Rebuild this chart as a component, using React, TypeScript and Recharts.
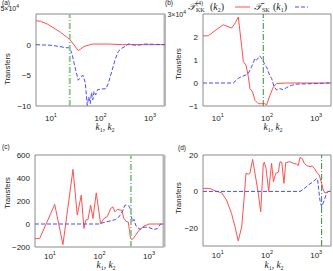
import React from "react";
import { ComposedChart, Line, XAxis, YAxis, ReferenceLine, ReferenceArea } from "recharts";

const K_RANGE = [5, 2000];
const K_TICKS = [10, 100, 1000];

// (a)  values in units of 10^4
const A_RED_K = [5, 6.2, 8.5, 11.5, 15.7, 21.4, 24.3, 29.2, 35.6, 40, 46.5, 68, 150, 280, 2000];
const A_RED_V = [3.9, 3.8, 3.35, 2.7, 2.0, 1.16, 0.8, -0.04, -0.97, -0.7, -0.3, 0.1, 0.1, 0, 0];
const A_BLUE_K = [5, 10, 15, 20, 24, 27, 31.5, 35.6, 40.5, 44.6, 49.6, 54, 58, 62, 66, 70, 74, 80, 88, 100, 112, 129, 144, 168, 196, 228, 267, 311, 363, 425, 537, 800, 2000];
const A_BLUE_V = [0, -0.1, -0.3, -0.5, -0.5, -1.7, -4.1, -5.8, -5.2, -5.0, -6.3, -9.9, -8.5, -9.6, -7.8, -9.0, -7.6, -8.2, -7.3, -7.3, -7.2, -7.2, -6.3, -4.4, -2.5, -1.1, -0.6, -0.3, 0.13, 0, -0.1, 0.1, 0];
const A_MARK = 24;
const A_TICKS = [-10, -5, 0, 5];

// (b)  values in units of 10^4
const B_RED_K = [5, 6.4, 8.8, 12.9, 19.1, 22.4, 26.1, 30.6, 33, 37.5, 41.7, 45, 51, 57, 66.5, 78, 90, 98, 106, 115, 135, 158, 250, 2000];
const B_RED_V = [2.05, 2.05, 2.28, 2.53, 2.39, 2.6, 2.87, 1.58, 0.93, 0.78, 0.27, -0.24, -0.39, -0.75, -0.9, -0.9, -0.9, -0.95, -0.75, -0.53, -0.17, -0.02, 0, 0];
const B_BLUE_K = [5, 15, 20.6, 26, 30, 36, 41.7, 48.7, 57, 61, 65, 71, 76, 84, 92, 98, 106, 115, 124, 140, 158, 182, 213, 250, 316, 400, 2000];
const B_BLUE_V = [0, 0, 0, 0.2, 0.27, 0.34, 0.42, 0.71, 1.07, 1.0, 1.05, 1.18, 1.1, 0.95, 0.75, 0.7, 0.5, 0.3, 0.2, -0.17, -0.31, -0.24, -0.3, -0.2, -0.1, -0.05, 0];
const B_MARK = 84;
const B_TICKS = [-1, 0, 1, 2, 3];

// (c)
const C_RED_K = [5, 6.2, 12.5, 18.3, 29.2, 35.6, 42.9, 48.6, 52.6, 58.5, 66.4, 73.8, 86, 105, 123, 144, 168, 187, 205, 228, 280, 311, 347, 380, 406, 425, 458, 536, 625, 788, 993, 2000];
const C_RED_V = [-127, -127, 170, -179, 475, 77, 251, -39, 33, 39, 164, 48, 271, 4, 48, 65, 135, 149, 106, 126, 120, 48, 21, 18, -69, -127, -135, -98, -54, -19, 0, 0];
const C_BLUE_K = [5, 80, 97.5, 133, 168, 212, 247, 288, 326, 363, 406, 437, 458, 495, 536, 578, 677, 788, 993, 1250, 1460, 1710, 2000];
const C_BLUE_V = [0, 0, 0, 18, 27, 39, 62, 106, 164, 164, 149, 77, 18, 40, -9, -30, -48, -27, -30, -48, -40, 0, 0];
const C_MARK = 430;
const C_TICKS = [-200, 0, 200, 400, 600];

// (d)
const D_RED_K = [5, 6.9, 8.8, 12, 15, 19, 22.4, 26, 30.6, 34, 37.4, 41.7, 45, 51, 57, 66.5, 74.5, 84, 88, 95.5, 108, 124, 135, 150, 170, 184, 200, 221, 240, 293, 342, 400, 432, 468, 521, 573, 640, 748, 833, 916, 1020, 1155, 1290, 1395, 1510, 1760, 2000];
const D_RED_V = [1.65, 1.65, 0.3, -0.8, -4.8, -12.1, -19.5, -27.2, -19.5, -4.8, 9.9, 9.5, 10, 17.6, 9.9, -1.1, -11.2, 15, 16, 12.7, 0, 15.4, 5.3, 9.9, 10.5, 16.3, 16, 4.4, 15.8, 16.3, 15.4, 15, 14.2, 18.7, 18, 15.4, 14.2, 13.6, 14, 12.7, 10.5, 9, 4.4, 0.7, -0.9, 0, 0];
const D_BLUE_K = [5, 470, 546, 692, 870, 1020, 1070, 1190, 1290, 1460, 1620, 1760, 2000];
const D_BLUE_V = [0, 0, 1.1, 3.5, 5.3, 7.2, 6.4, -4.8, -8.5, -4.8, -1.1, 0, 0];
const D_MARK = 1290;
const D_TICKS = [-30, -20, -10, 0, 10, 20];

const RED = "#ff5050";
const BLUE = "#4a4aff";
const SANS = "'Liberation Sans', Arial, sans-serif";
const SERIF = "'Liberation Serif', 'DejaVu Serif', serif";

const pts = (ks: number[], vs: number[]) => ks.map((k, i) => ({ k, v: vs[i] }));
const fmt = (v: number) => (v < 0 ? "\u2212" + Math.abs(v) : String(v));

function XTick({ x, y, payload, dyBase }: any) {
  const exp = Math.round(Math.log10(payload.value));
  return (
    <text x={x} y={y + dyBase} textAnchor="middle" fontSize={8} fill="#222" fontFamily={SANS}>
      10<tspan dy={-4} fontSize={5.5}>{exp}</tspan>
    </text>
  );
}

// multiplier label for the top tick: [dx from axis, dy from the tick]
function makeYTick(mult: number | null, mpos: number[]) {
  return ({ x, y, payload }: any) => {
    if (mult !== null && payload.value === mult) {
      return (
        <text x={x - mpos[0]} y={y + mpos[1]} textAnchor="end" fontSize={7} fill="#222" fontFamily={SANS}>
          {mult}×10<tspan dy={-3} fontSize={5}>4</tspan>
        </text>
      );
    }
    return (
      <text x={x - 3} y={y + 3} textAnchor="end" fontSize={8} fill="#222" fontFamily={SANS}>
        {fmt(payload.value)}
      </text>
    );
  };
}

function XLabel({ cx, cy }: any) {
  return (
    <text x={cx} y={cy} textAnchor="middle" fontSize={9.5} fill="#222" fontFamily={SERIF}>
      <tspan fontStyle="italic">k</tspan>
      <tspan fontSize={6} dy={2}>1</tspan>
      <tspan dy={-2}>, </tspan>
      <tspan fontStyle="italic">k</tspan>
      <tspan fontSize={6} dy={2}>2</tspan>
    </text>
  );
}

function YLabel({ cx, cy }: any) {
  return (
    <text x={cx} y={cy} transform={`rotate(-90 ${cx} ${cy})`} textAnchor="middle" dy={3} fontSize={7.5} fill="#222" fontFamily={SANS}>
      Transfers
    </text>
  );
}

function Panel(p: any) {
  return (
    <div style={{ position: "absolute", left: p.left, top: p.top }}>
      <ComposedChart width={p.width} height={p.height} margin={p.margin}>
        <XAxis
          dataKey="k"
          type="number"
          scale="log"
          domain={K_RANGE}
          allowDataOverflow
          ticks={K_TICKS}
          tick={<XTick dyBase={p.xTickDy} />}
          tickLine={false}
          tickSize={0}
          axisLine={false}
          height={p.xHeight}
          label={<XLabel cx={p.xl[0]} cy={p.xl[1]} />}
        />
        <YAxis
          type="number"
          domain={p.domain}
          ticks={p.ticks}
          allowDataOverflow
          width={p.yWidth}
          tick={makeYTick(p.mult, p.mpos)}
          tickLine={false}
          tickSize={0}
          axisLine={false}
          label={<YLabel cx={p.yl[0]} cy={p.yl[1]} />}
        />
        <ReferenceArea x1={K_RANGE[0]} x2={K_RANGE[1]} y1={p.domain[0]} y2={p.domain[1]} fill="none" stroke="#8a8a8a" strokeWidth={1} />
        {p.edge && <ReferenceLine x={K_RANGE[1]} stroke="#b4b4b4" strokeWidth={3} />}
        <Line data={p.red} dataKey="v" type="linear" stroke={RED} strokeWidth={1} dot={false} isAnimationActive={false} />
        <Line data={p.blue} dataKey="v" type="linear" stroke={BLUE} strokeWidth={1} strokeDasharray="4 2" dot={false} isAnimationActive={false} />
        <ReferenceLine x={p.mark} stroke={p.markColor} strokeWidth={p.markWidth} strokeDasharray="6 2 1 2" />
      </ComposedChart>
    </div>
  );
}

export default function App() {
  return (
    <div style={{ position: "absolute", left: 0, top: 0, width: 333, height: 271, background: "#fff", overflow: "hidden" }}>
      <Panel left={0} top={0} width={166} height={135} margin={{ top: 14, right: 1, bottom: 0, left: 0 }}
        yWidth={36} xHeight={29} domain={[-10, 5]} ticks={A_TICKS} mult={5} mpos={[15, -3]} edge
        red={pts(A_RED_K, A_RED_V)} blue={pts(A_BLUE_K, A_BLUE_V)} mark={A_MARK} markColor="#8fc98f" markWidth={2}
        xTickDy={13} xl={[105, 129.5]} yl={[7, 69]} />
      <Panel left={163} top={0} width={170} height={135} margin={{ top: 14, right: 2, bottom: 0, left: 0 }}
        yWidth={40} xHeight={29} domain={[-1, 3]} ticks={B_TICKS} mult={3} mpos={[15, 3]}
        red={pts(B_RED_K, B_RED_V)} blue={pts(B_BLUE_K, B_BLUE_V)} mark={B_MARK} markColor="#2f8f2f" markWidth={1}
        xTickDy={13} xl={[110, 129.5]} yl={[15, 64]} />
      <Panel left={0} top={135} width={166} height={136} margin={{ top: 20, right: 2, bottom: 0, left: 0 }}
        yWidth={35} xHeight={24} domain={[-200, 600]} ticks={C_TICKS} mult={null} mpos={[0, 0]} edge
        red={pts(C_RED_K, C_RED_V)} blue={pts(C_BLUE_K, C_BLUE_V)} mark={C_MARK} markColor="#8fc98f" markWidth={2}
        xTickDy={10} xl={[106, 133]} yl={[7, 58]} />
      <Panel left={163} top={135} width={170} height={136} margin={{ top: 20, right: 2, bottom: 0, left: 0 }}
        yWidth={40} xHeight={25} domain={[-30, 20]} ticks={D_TICKS} mult={null} mpos={[0, 0]}
        red={pts(D_RED_K, D_RED_V)} blue={pts(D_BLUE_K, D_BLUE_V)} mark={D_MARK} markColor="#2f8f2f" markWidth={1}
        xTickDy={10} xl={[111, 133]} yl={[15, 63]} />
      <svg width={333} height={271} style={{ position: "absolute", left: 0, top: 0, pointerEvents: "none" }}>
        <g fontFamily={SANS} fontSize={6.5} fill="#222">
          <text x={2} y={5}>(a)</text>
          <text x={165} y={5}>(b)</text>
          <text x={2} y={149}>(c)</text>
          <text x={178} y={150}>(d)</text>
        </g>
        <g fontFamily={SERIF} fill="#222">
          <text x={188} y={10} fontSize={10} fontStyle="italic">𝒯</text>
          <text x={196} y={5} fontSize={6}>(4)</text>
          <text x={196} y={12} fontSize={6}>KK</text>
          <text x={210} y={10} fontSize={10}>(<tspan fontStyle="italic">k</tspan><tspan fontSize={6} dy={2}>2</tspan><tspan dy={-2}>)</tspan></text>
          <line x1={235} y1={7} x2={250} y2={7} stroke={RED} strokeWidth={1} />
          <text x={254} y={10} fontSize={10} fontStyle="italic">𝒯</text>
          <text x={262} y={12} fontSize={6}>SK</text>
          <text x={273} y={10} fontSize={10}>(<tspan fontStyle="italic">k</tspan><tspan fontSize={6} dy={2}>1</tspan><tspan dy={-2}>)</tspan></text>
          <line x1={295} y1={7} x2={308} y2={7} stroke={BLUE} strokeWidth={1} strokeDasharray="4 2" />
        </g>
      </svg>
    </div>
  );
}
